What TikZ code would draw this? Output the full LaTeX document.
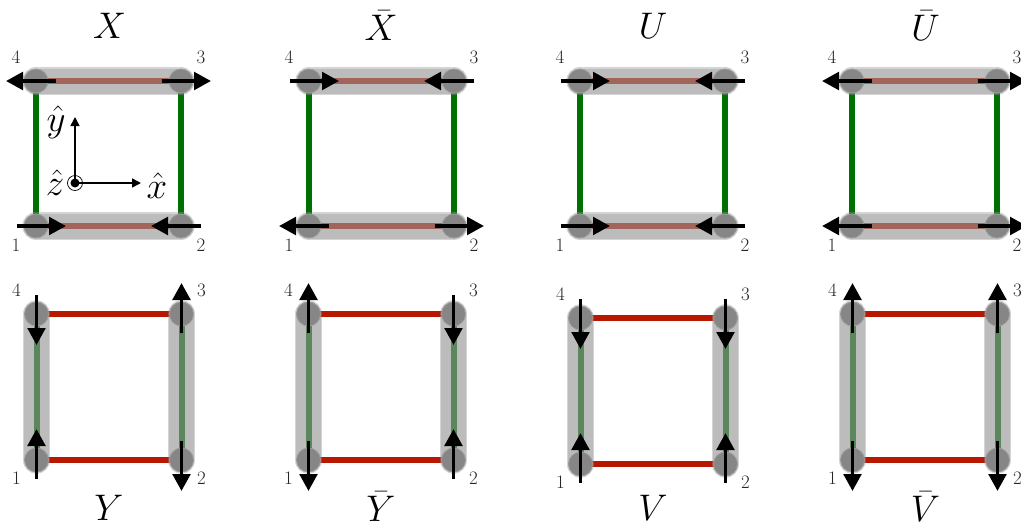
\RequirePackage{fix-cm}
\documentclass[tikz,border=0pt]{standalone}
\usetikzlibrary{arrows.meta}
\definecolor{redln}{HTML}{B81800}
\definecolor{greenln}{HTML}{007000}
\definecolor{bandc}{HTML}{949494}
\definecolor{dotc}{HTML}{868686}
\definecolor{dotr}{HTML}{9C9C9C}
\tikzset{
  x=1pt,y=-1pt,
  redbar/.style={draw=redln,line width=6pt},
  greenbar/.style={draw=greenln,line width=6pt},
  bandout/.style={draw=bandc,line width=27.5pt,line cap=round,draw opacity=.4},
  bandin/.style={draw=bandc,line width=25pt,line cap=round,draw opacity=.38},
  dot/.style={circle,fill=dotc,draw=dotr,line width=.8pt,minimum size=24pt,inner sep=0pt},
  spin/.style={draw=black,line width=3.8pt,-{Triangle[length=17pt,width=17.5pt]}},
  axis/.style={draw=black,line width=1.5pt,-{Triangle[length=9pt,width=9pt]}},
  num/.style={font=\fontsize{19}{19}\selectfont,text=black!85,inner sep=0pt},
  ttl/.style={font=\fontsize{37}{37}\selectfont,inner sep=0pt},
  hatl/.style={font=\fontsize{37}{37}\selectfont,inner sep=0pt},
}
% id, x left, y top, sign for top pair, sign for bottom pair (1 = inward, -1 = outward)
\newcommand{\hpanel}[5]{%
  \coordinate (#1a) at (#2,#3+145);
  \coordinate (#1b) at (#2+145,#3+145);
  \coordinate (#1c) at (#2+145,#3);
  \coordinate (#1d) at (#2,#3);
  \draw[greenbar] (#1a) -- (#1d);
  \draw[greenbar] (#1b) -- (#1c);
  \draw[redbar] (#1a) -- (#1b);
  \draw[redbar] (#1d) -- (#1c);
  \foreach \p/\q in {a/b,d/c}{
    \draw[bandout] (#1\p) -- (#1\q);
    \draw[bandin] (#1\p) -- (#1\q);
  }
  \foreach \p in {a,b,c,d} \node[dot] (#1n\p) at (#1\p) {};
  \draw[spin] ([xshift={-19.5*(#4)}]#1nd.center) -- ([xshift={30*(#4)}]#1nd.center);
  \draw[spin] ([xshift={19.5*(#4)}]#1nc.center) -- ([xshift={-30*(#4)}]#1nc.center);
  \draw[spin] ([xshift={-19.5*(#5)}]#1na.center) -- ([xshift={30*(#5)}]#1na.center);
  \draw[spin] ([xshift={19.5*(#5)}]#1nb.center) -- ([xshift={-30*(#5)}]#1nb.center);
  \node[num] (#1l1) at (#2-20,#3+164) {1};
  \node[num] (#1l2) at (#2+165,#3+164) {2};
  \node[num] (#1l3) at (#2+165,#3-24) {3};
  \node[num] (#1l4) at (#2-20,#3-24) {4};
}
% id, x left, y top, sign for left pair, sign for right pair
\newcommand{\vpanel}[5]{%
  \coordinate (#1a) at (#2,#3+146);
  \coordinate (#1b) at (#2+145,#3+146);
  \coordinate (#1c) at (#2+145,#3);
  \coordinate (#1d) at (#2,#3);
  \draw[redbar] (#1a) -- (#1b);
  \draw[redbar] (#1d) -- (#1c);
  \draw[greenbar] (#1a) -- (#1d);
  \draw[greenbar] (#1b) -- (#1c);
  \foreach \p/\q in {a/d,b/c}{
    \draw[bandout] (#1\p) -- (#1\q);
    \draw[bandin] (#1\p) -- (#1\q);
  }
  \foreach \p in {a,b,c,d} \node[dot] (#1n\p) at (#1\p) {};
  \draw[spin] ([yshift={19*(#4)}]#1nd.center) -- ([yshift={-31*(#4)}]#1nd.center);
  \draw[spin] ([yshift={-19*(#4)}]#1na.center) -- ([yshift={31*(#4)}]#1na.center);
  \draw[spin] ([yshift={19*(#5)}]#1nc.center) -- ([yshift={-31*(#5)}]#1nc.center);
  \draw[spin] ([yshift={-19*(#5)}]#1nb.center) -- ([yshift={31*(#5)}]#1nb.center);
  \node[num] (#1l1) at (#2-20,#3+164) {1};
  \node[num] (#1l2) at (#2+165,#3+164) {2};
  \node[num] (#1l3) at (#2+165,#3-24) {3};
  \node[num] (#1l4) at (#2-20,#3-24) {4};
}
\begin{document}
\begin{tikzpicture}
\useasboundingbox (0,0) rectangle (1021,523);
\hpanel{X}{36}{81}{-1}{1}
\hpanel{XB}{309}{81}{1}{-1}
\hpanel{U}{580}{81}{1}{1}
\hpanel{UB}{852}{81}{-1}{-1}
\vpanel{Y}{36.5}{314}{1}{-1}
\vpanel{YB}{308.5}{314}{-1}{1}
\vpanel{V}{580.5}{318}{1}{1}
\vpanel{VB}{852.5}{314}{-1}{-1}
\node[ttl] (tX) at (109.5,25.5) {$X$};
\node[ttl] (tXB) at (381,25.5) {$\bar X$};
\node[ttl] (tU) at (653,25.5) {$U$};
\node[ttl] (tUB) at (925.5,25.5) {$\bar U$};
\node[ttl] (tY) at (109,507.5) {$Y$};
\node[ttl] (tYB) at (381,506.5) {$\bar Y$};
\node[ttl] (tV) at (653,507.5) {$V$};
\node[ttl] (tVB) at (925.5,506.5) {$\bar V$};
\coordinate (ytip) at (75,117);
\coordinate (xtip) at (141,183);
\node[circle,fill=black,minimum size=9pt,inner sep=0pt] (zin) at (75,183) {};
\node[circle,draw=black,line width=.7pt,minimum size=15pt,inner sep=0pt] (zout) at (75,183) {};
\draw[axis] (zout.center) -- (ytip);
\draw[axis] (zout.center) -- (xtip);
\node[hatl] (ly) at (56,122) {$\hat y$};
\node[hatl] (lz) at (55,183) {$\hat z$};
\node[hatl] (lx) at (157,186) {$\hat x$};
\end{tikzpicture}
\end{document}
